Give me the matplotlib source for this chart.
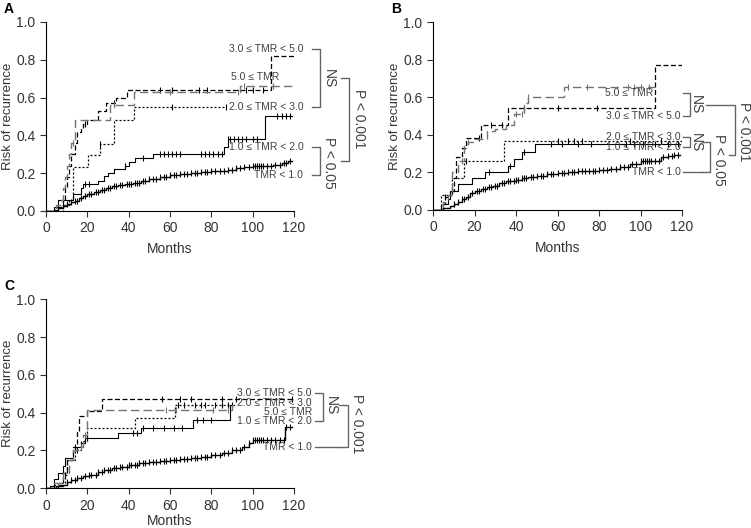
import numpy as np
import matplotlib
matplotlib.use("Agg")
import matplotlib.pyplot as plt

plt.rcParams['font.family'] = ['Liberation Sans', 'DejaVu Sans']

# ---- panel A ----
a_t1 = [0, 4, 6, 8, 10, 12, 14, 16, 18, 20, 23, 26, 29, 32, 35, 38, 42, 46, 50, 55, 60, 65, 70, 75, 80, 88, 92, 96, 100, 110, 114, 117]
a_v1 = [0, .005, .015, .025, .035, .045, .055, .07, .08, .09, .10, .11, .12, .13, .14, .145, .15, .16, .17, .18, .19, .195, .2, .205, .21, .215, .225, .235, .24, .245, .255, .265]
a_t12 = [0, 4, 6, 13, 17, 18, 25, 28, 30, 33, 38, 40, 43, 52, 86, 88, 106]
a_v12 = [0, .02, .06, .09, .12, .145, .16, .185, .2, .22, .24, .26, .28, .30, .34, .38, .50]
a_t23 = [0, 8, 11, 13, 20.4, 26, 33, 42.5]
a_v23 = [0, .03, .06, .235, .295, .355, .48, .55]
a_t35 = [0, 6, 8, 9, 10, 11, 12, 14, 15, 17, 18, 20, 25, 29, 34, 39, 109]
a_v35 = [0, .02, .06, .12, .18, .24, .30, .36, .42, .44, .46, .48, .53, .57, .60, .64, .82]
a_t5 = [0, 5, 7, 8, 9, 10, 11, 12, 14, 31, 42.5, 94]
a_v5 = [0, .03, .06, .12, .18, .24, .30, .36, .48, .56, .63, .66]
a_end = [119, 119, 87, 120, 120]
a_c12 = [19, 21, 38, 47, 55, 57, 59, 61, 63, 65, 75, 77, 79, 81, 83, 85, 88, 89, 91, 93, 95, 97, 100, 102, 112, 114, 116, 118]
a_c23 = [8, 26, 61, 87]
a_c35 = [19, 33, 55, 61, 74, 78, 97, 100, 105]
a_c5 = [13, 33, 60, 93, 96, 110]

# ---- panel B ----
b_t1 = [0, 5, 8, 10, 12, 14, 16, 18, 20, 23, 26, 29, 32, 35, 40, 43, 46, 50, 55, 60, 65, 70, 75, 80, 85, 90, 95, 100, 110, 113, 116]
b_v1 = [0, .01, .02, .03, .04, .06, .07, .09, .10, .11, .12, .13, .145, .155, .16, .17, .175, .18, .19, .195, .2, .205, .21, .215, .22, .23, .245, .26, .28, .285, .295]
b_t12 = [0, 5, 7, 8, 12, 19, 25, 36, 39, 43, 49]
b_v12 = [0, .03, .06, .10, .14, .17, .20, .235, .27, .31, .35]
b_t23 = [0, 4, 9, 15, 34]
b_v23 = [0, .08, .17, .26, .365]
b_t35 = [0, 4, 6, 8, 10, 11, 14, 16, 23, 36, 107]
b_v35 = [0, .03, .07, .10, .17, .28, .33, .385, .45, .54, .77]
b_t5 = [0, 5, 7, 9, 12, 15, 17, 20, 26, 30, 35, 39, 44, 46, 63]
b_v5 = [0, .04, .08, .20, .26, .35, .36, .38, .42, .43, .45, .51, .57, .60, .655]
b_end = [119, 119, 120, 120, 107]
b_c12 = [27, 37, 44, 57, 62, 70, 76, 93, 97, 101, 107, 113, 118]
b_c23 = [16, 60, 65, 68, 72, 95, 110]
b_c35 = [6, 9, 22, 28, 33, 44, 60, 79]
b_c5 = [14, 17, 40, 43, 46, 65, 74, 94, 97, 100, 104]

# ---- panel C ----
c_t1 = [0, 5, 8, 10, 12, 15, 18, 21, 25, 28, 32, 36, 40, 45, 50, 55, 60, 65, 70, 75, 80, 85, 90, 95, 98, 100, 115.5]
c_v1 = [0, .01, .02, .035, .045, .055, .065, .07, .085, .095, .105, .115, .125, .135, .14, .145, .15, .155, .16, .165, .175, .185, .2, .22, .24, .255, .325]
c_t12 = [0, 2, 4, 6, 8, 9, 13, 15, 17, 19, 35, 46, 71, 89]
c_v12 = [0, .01, .05, .08, .12, .16, .20, .22, .24, .265, .29, .32, .36, .44]
c_t23 = [0, 6, 9, 10, 14, 17, 20, 43, 62.5]
c_v23 = [0, .03, .07, .15, .20, .25, .317, .37, .44]
c_t35 = [0, 4, 8, 10, 13, 15, 16, 20, 27]
c_v35 = [0, .02, .08, .15, .22, .30, .385, .41, .475]
c_t5 = [0, 4, 8, 11, 13, 16, 18, 20, 90]
c_v5 = [0, .03, .08, .15, .20, .22, .28, .415, .44]
c_end = [119, 91, 91, 119, 91]
c_c12 = [20, 42, 44, 47, 52, 57, 62, 66, 73, 76, 80, 90]
c_c23 = [9, 15, 64, 67, 72, 75, 77, 82, 85, 88]
c_c35 = [14, 56, 65, 70, 85, 92, 119]
c_c5 = [17, 19, 58, 63, 81, 88]

# censoring marks of the TMR < 1.0 group (dense)
c1_dense = [10, 12, 14, 15, 17, 19, 21, 22, 24, 25, 27, 28, 30, 31, 33, 34, 36, 37, 39, 40, 41, 43, 44,
            45, 47, 48, 50, 52, 53, 55, 57, 58, 60, 62, 63, 65, 67, 68, 70, 72, 73, 75, 77, 78, 80, 82,
            84, 86, 88, 90, 92, 94, 96, 98, 100, 101, 102, 103, 104, 105, 107, 109, 111, 113, 115, 116, 118]

groups = ["TMR < 1.0", "1.0 \u2264 TMR < 2.0", "2.0 \u2264 TMR < 3.0", "3.0 \u2264 TMR < 5.0", "5.0 \u2264 TMR"]

styles = [dict(color='black', lw=1.0, ls='-'),
          dict(color='black', lw=0.8, ls='-'),
          dict(color='black', lw=0.9, ls=(0, (1.6, 1.6))),
          dict(color='black', lw=0.9, ls=(0, (4, 2))),
          dict(color='0.45', lw=1.0, ls=(0, (6, 3)))]


def km(ax, t, v, end, cens, st):
    tt = list(t) + [end]
    vv = list(v) + [v[-1]]
    ax.step(tt, vv, where='post', **st)
    cy = [v[np.searchsorted(t, c, side='right') - 1] for c in cens]
    ax.plot(cens, cy, ls='none', marker='|', ms=4, mew=0.8, color=st['color'])


def setup(ax, letter, xlab_y=-0.165):
    ax.set_xlim(0, 120)
    ax.set_ylim(0, 1.0)
    ax.set_xticks(np.arange(0, 121, 20))
    ax.set_yticks(np.arange(0, 1.01, 0.2))
    ax.set_yticklabels(['%.1f' % y for y in np.arange(0, 1.01, 0.2)])
    ax.spines['top'].set_visible(False)
    ax.spines['right'].set_visible(False)
    ax.tick_params(labelsize=10, length=4, width=0.8, colors='0.2')
    ax.set_xlabel('Months', fontsize=10, color='0.2')
    ax.set_ylabel('Risk of recurrence', fontsize=9.5, color='0.2')
    ax.xaxis.set_label_coords(0.5, xlab_y)
    ax.yaxis.set_label_coords(-0.13, 0.5)
    ax.text(-0.17, 1.07, letter, transform=ax.transAxes, fontsize=10, fontweight='bold', ha='left', va='center')


def bracket(ax, x0, x1, y0, y1, x0b=None):
    if x0b is None:
        x0b = x0
    ax.plot([x0, x1, x1, x0b], [y0, y0, y1, y1], color='0.4', lw=1, clip_on=False)


def vtext(ax, x, y, s):
    ax.text(x, y, s, rotation=270, fontsize=10, color='0.25', ha='center', va='center', clip_on=False)


def lab(ax, x, y, s, ha='right'):
    ax.text(x, y, s, fontsize=7.5, color='0.25', ha=ha, va='center', clip_on=False)


fig = plt.figure(figsize=(7.51, 5.28), dpi=100)
axA = fig.add_axes([0.0613, 0.6004, 0.3302, 0.358])
axB = fig.add_axes([0.5766, 0.6023, 0.3316, 0.356])
axC = fig.add_axes([0.0613, 0.0752, 0.3302, 0.358])

panels = [
    (axA, [a_t1, a_t12, a_t23, a_t35, a_t5], [a_v1, a_v12, a_v23, a_v35, a_v5], a_end, [c1_dense, a_c12, a_c23, a_c35, a_c5]),
    (axB, [b_t1, b_t12, b_t23, b_t35, b_t5], [b_v1, b_v12, b_v23, b_v35, b_v5], b_end, [c1_dense, b_c12, b_c23, b_c35, b_c5]),
    (axC, [c_t1, c_t12, c_t23, c_t35, c_t5], [c_v1, c_v12, c_v23, c_v35, c_v5], c_end, [c1_dense, c_c12, c_c23, c_c35, c_c5]),
]
for ax, ts, vs, ends, cs in panels:
    for t, v, e, c, st in zip(ts, vs, ends, cs, styles):
        c = [x for x in c if t[0] <= x <= e]
        km(ax, t, v, e, c, st)

setup(axA, 'A')
setup(axB, 'B')
setup(axC, 'C', xlab_y=-0.135)

# panel A annotations
lab(axA, 124.5, 0.857, groups[3])
lab(axA, 89.5, 0.708, groups[4], ha='left')
lab(axA, 124.5, 0.552, groups[2])
lab(axA, 124.5, 0.34, groups[1])
lab(axA, 124.5, 0.19, groups[0])
bracket(axA, 128.6, 132.6, 0.857, 0.552)
vtext(axA, 136.8, 0.70, 'NS')
bracket(axA, 128.6, 132.6, 0.34, 0.19)
vtext(axA, 136.8, 0.255, 'P < 0.05')
bracket(axA, 142.6, 146.8, 0.706, 0.264)
vtext(axA, 151.5, 0.49, 'P < 0.001')

# panel B annotations
lab(axB, 106.3, 0.62, groups[4])
lab(axB, 119.2, 0.50, groups[3])
lab(axB, 119.2, 0.389, groups[2])
lab(axB, 119.2, 0.336, groups[1])
lab(axB, 119.2, 0.20, groups[0])
bracket(axB, 120.6, 123.7, 0.62, 0.50)
vtext(axB, 126.8, 0.56, 'NS')
bracket(axB, 120.6, 123.7, 0.389, 0.336)
vtext(axB, 126.8, 0.36, 'NS')
bracket(axB, 129.6, 133.6, 0.362, 0.20)
axB.plot([120.6, 129.6], [0.20, 0.20], color='0.4', lw=1, clip_on=False)
vtext(axB, 137.8, 0.265, 'P < 0.05')
bracket(axB, 131.5, 145.5, 0.56, 0.29, x0b=142.7)
vtext(axB, 149.8, 0.415, 'P < 0.001')

# panel C annotations
lab(axC, 128.6, 0.503, groups[3])
lab(axC, 128.6, 0.453, groups[2])
lab(axC, 128.6, 0.405, groups[4])
lab(axC, 128.6, 0.358, groups[1])
lab(axC, 128.6, 0.22, groups[0])
bracket(axC, 130.0, 134.0, 0.503, 0.358)
vtext(axC, 137.8, 0.435, 'NS')
bracket(axC, 142.0, 146.0, 0.44, 0.22)
axC.plot([130.0, 142.0], [0.22, 0.22], color='0.4', lw=1, clip_on=False)
vtext(axC, 150.5, 0.34, 'P < 0.001')

fig.savefig('out.png', dpi=100)
